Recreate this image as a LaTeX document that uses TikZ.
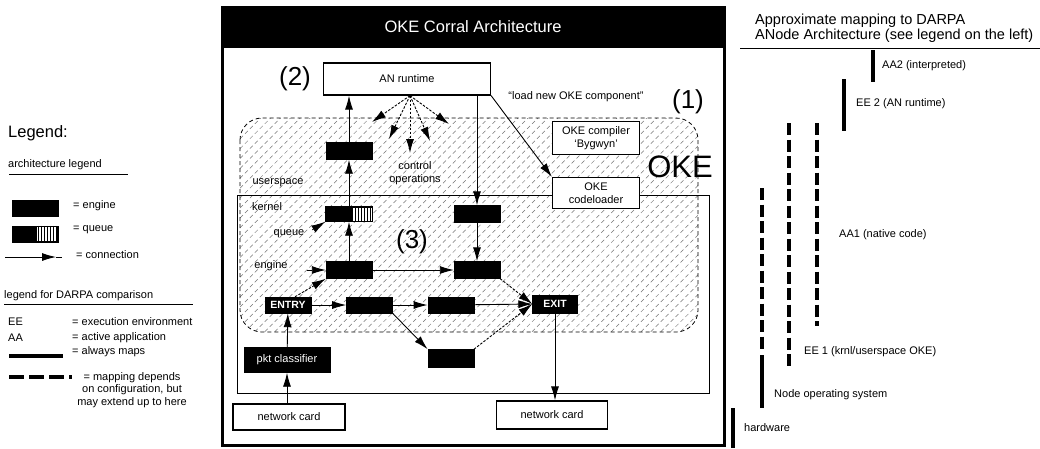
\documentclass[tikz,border=0pt]{standalone}
\usepackage{fontspec}
\setmainfont{Liberation Sans}
\usetikzlibrary{positioning,arrows.meta,patterns.meta}

\newcommand{\txtsmall}{\fontsize{11}{12.5}\selectfont}
\newcommand{\txtmark}{\fontsize{26}{28}\selectfont}

\begin{document}
\begin{tikzpicture}[x=1pt, y=-1pt, font=\txtsmall, inner sep=1pt,
    engine/.style={draw, fill=black, text=white, minimum width=46pt, minimum height=17pt, inner sep=0pt},
    wbox/.style={draw, fill=white, line width=1.2pt, align=center, inner sep=0pt},
    conn/.style={-{Latex[length=14pt,width=8pt]}, line width=0.9pt},
    dconn/.style={conn, dash pattern=on 2.5pt off 1.5pt},
    fullmap/.style={line width=4pt},
    partmap/.style={line width=4pt, dash pattern=on 12pt off 4.5pt}]
\useasboundingbox (0,0) rectangle (1040,448);

% frame and title
\fill (222,7) rectangle (724,48);
\node[text=white, font=\fontsize{16.5}{18}\selectfont] (title) at (473,27) {OKE Corral Architecture};
\draw[line width=3pt] (222,7) rectangle (724,445);

% OKE area and kernel
\draw[line width=0.8pt, dash pattern=on 4pt off 3pt, rounded corners=22pt,
  pattern={Lines[angle=45,distance=7pt,line width=0.5pt]}, pattern color=black!55]
  (240,118) rectangle (698,332);
\draw[line width=1pt] (237,195) rectangle (709,393);

% boxes
\node[wbox, minimum width=167pt, minimum height=32pt] (anrt) at (407,79) {AN runtime};
\node[wbox, minimum width=87pt, minimum height=33pt] (comp) at (596,138) {OKE compiler\\`Bygwyn'};
\node[wbox, minimum width=87pt, minimum height=31pt] (cload) at (596,193) {OKE\\codeloader};
\node[wbox, minimum width=112pt, minimum height=26pt] (nc1) at (289,417) {network card};
\node[wbox, minimum width=111pt, minimum height=28pt] (nc2) at (552,415) {network card};

% engines
\node[engine] (ueng) at (349,151) {};
\node[engine, minimum width=47pt, minimum height=15pt] (queue) at (349,214) {};
\node[engine] (rtop) at (477,214) {};
\node[engine] (leng) at (349,270) {};
\node[engine] (reng) at (477,270) {};
\node[engine, minimum height=16pt, font=\fontsize{10.5}{12}\selectfont\bfseries] (entry) at (288,305) {ENTRY};
\node[engine, minimum height=16pt] (m1) [right=35pt of entry] {};
\node[engine, minimum height=16pt] (m2) [right=35pt of m1] {};
\node[engine, minimum width=45pt, minimum height=18pt, font=\fontsize{10.5}{12}\selectfont\bfseries] (exit) at (555,304) {EXIT};
\node[engine, minimum height=18pt] (beng) [below=36pt of m2] {};
\node[engine, minimum width=86pt, minimum height=25pt] (pkt) at (287,360) {pkt classifier};

% labels
\node[font=\txtmark] (n2) at (295,79) {(2)};
\node[font=\txtmark] (n1) at (688,102) {(1)};
\node[font=\txtmark] (n3) at (412,242) {(3)};
\node[font=\fontsize{31}{33}\selectfont] (okelab) at (680,167) {OKE};
\node (loadlab) at (576,97) {``load new OKE component''};
\node[align=center] (ctlab) at (415,173) {control\\operations};
\node (uslab) at (278,183) {userspace};
\node (krlab) at (267,207) {kernel};
\node (qlab) at (289,234) {queue};
\node (elab) at (271,266) {engine};

% connections
\path[conn] (leng) edge (queue)
            (queue) edge (ueng)
            (rtop) edge (reng)
            (leng) edge (reng)
            (entry) edge (m1)
            (m1) edge (m2)
            (pkt) edge (entry);
\draw[conn] (ueng) -- (ueng |- anrt.south);
\draw[conn] (rtop |- anrt.south) -- (rtop);
\draw[conn] (m2) -- (exit.west);
\draw[conn] (m1.south east) -- (beng.north west);
\draw[dconn] ([xshift=7pt]entry.north) -- (leng.south west);
\draw[dconn] (reng.south east) -- (exit.west);
\draw[dconn] (beng.north east) -- (exit.west);
\draw[conn] (nc1.north -| pkt) -- (pkt);
\draw[conn] (exit) -- (exit |- nc2.north);
\draw[conn] (anrt.south east) -- (cload.north west);
\draw[conn, shorten <=18pt] (elab.east |- leng) -- (leng.west);
\draw[dconn, shorten <=8pt] (qlab.east) -- (queue.south west);

% control operations
\coordinate (ctl) at ([xshift=3pt]anrt.south);
\foreach \cx/\cy [count=\n] in {372/122, 389/139, 410/153, 430/141, 449/124} {
  \coordinate (op\n) at (\cx,\cy);
  \draw[dconn] (ctl) -- (op\n);
}

% legend
\node[anchor=west, font=\fontsize{16.5}{18}\selectfont] (leg) at (7,133) {Legend:};
\node[anchor=west] (archleg) at (7,165) {architecture legend};
\draw[line width=1pt] (9,174) -- (128,174);
\node[engine, minimum height=16pt] (legeng) at (35,208) {};
\node[anchor=west] (legengt) at (72,206) {= engine};
\node[engine, minimum height=16pt] (legq) at (35,234) {};
\node[anchor=west] (legqt) at (72,230) {= queue};
\coordinate (legA) at (5,257);
\coordinate (legB) at (56,257);
\coordinate (legC) at (62,257);
\draw[conn] (legA) -- (legB);
\draw[line width=0.9pt] (legB) -- (legC);
\node[anchor=west] (legct) at (75,255) {= connection};

% queue stripes
\foreach \q in {queue, legq} {
  \fill[white] ([xshift=-21pt, yshift=-1.2pt]\q.north east) rectangle ([xshift=-0.8pt, yshift=1.2pt]\q.south east);
  \foreach \k in {0,...,6}
    \draw[line width=1.2pt] ([xshift=-20pt+\k*3pt]\q.north east) -- ([xshift=-20pt+\k*3pt]\q.south east);
}

\node[anchor=west] (darleg) at (3,296) {legend for DARPA comparison};
\draw[line width=1pt] (4,304) -- (193,304);
\node[anchor=west] (ee) at (7,322) {EE};
\node[anchor=west] (eet) at (71,322) {= execution environment};
\node[anchor=west] (aa) at (7,338) {AA};
\node[anchor=west] (aat) at (71,338) {= active application};
\draw[fullmap] (9,356) -- (63,356);
\node[anchor=west] (allt) at (71,352) {= always maps};
\draw[line width=4pt, dash pattern=on 15pt off 5pt] (9,377) -- (72,377);
\node[align=center] (partt) at (132,390) {= mapping depends\\on configuration, but\\may extend up to here};

% mapping to DARPA
\node[anchor=west, align=left, font=\fontsize{14.5}{15}\selectfont] (maphead) at (754,28) {Approximate mapping to DARPA\\ANode Architecture (see legend on the left)};
\draw[line width=1pt] (740,48) -- (1040,48);
\draw[fullmap] (873,50) -- (873,82);
\node[anchor=west] (aa2) at (881,66) {AA2 (interpreted)};
\draw[fullmap] (844,79) -- (844,131);
\node[anchor=west] (ee2) at (855,104) {EE 2 (AN runtime)};
\draw[partmap] (817,123) -- (817,326);
\node[anchor=west] (aa1) at (838,235) {AA1 (native code)};
\draw[partmap] (789,123) -- (789,366);
\node[anchor=west] (ee1) at (803,352) {EE 1 (krnl/userspace OKE)};
\draw[partmap] (762,188) -- (762,350);
\draw[fullmap] (762,355) -- (762,408);
\node[anchor=west] (nos) at (773,395) {Node operating system};
\draw[fullmap] (733,408) -- (733,448);
\node[anchor=west] (hw) at (743,428) {hardware};
\end{tikzpicture}
\end{document}
